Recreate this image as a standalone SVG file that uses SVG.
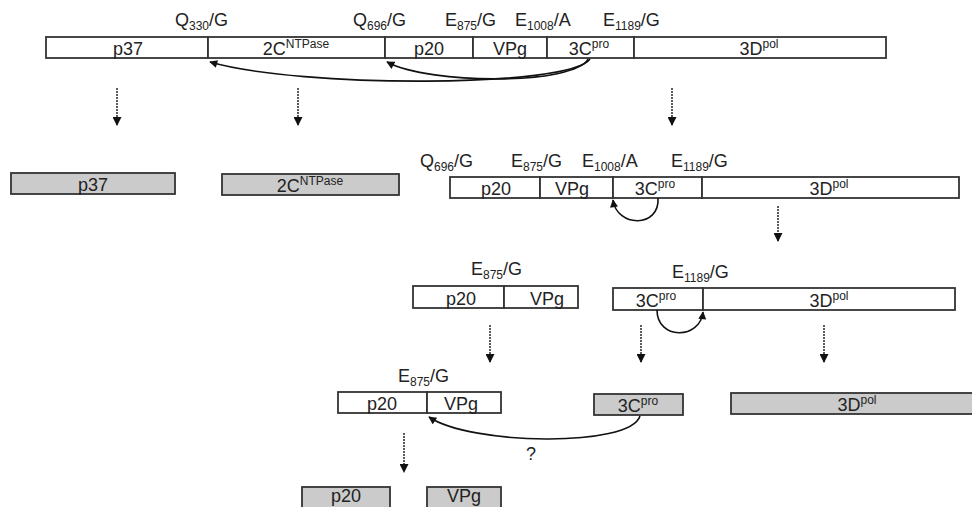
<svg xmlns="http://www.w3.org/2000/svg" width="972" height="507" viewBox="0 0 972 507">
<defs>
<style>
.seg{fill:#ffffff;stroke:#333333;stroke-width:1.8}
.gray{fill:#cbcbcb;stroke:#333333;stroke-width:1.8}
.t{font-family:"Liberation Sans",Arial,sans-serif;font-size:18px;fill:#222222;text-anchor:middle}
.lab{font-family:"Liberation Sans",Arial,sans-serif;font-size:18px;fill:#222222}
.sm{font-size:12px}
.cut{fill:none;stroke:#111111;stroke-width:1.6;marker-end:url(#ah)}
.dot{fill:none;stroke:#333333;stroke-width:1.6;stroke-dasharray:2 1;marker-end:url(#dh)}
</style>
<marker id="ah" viewBox="0 0 10 10" refX="9" refY="5" markerWidth="9" markerHeight="8" markerUnits="userSpaceOnUse" orient="auto"><path d="M0,0 L10,5 L0,10 z" fill="#111111"/></marker>
<marker id="dh" viewBox="0 0 10 10" refX="9" refY="5" markerWidth="10" markerHeight="9" markerUnits="userSpaceOnUse" orient="auto"><path d="M0,0 L10,5 L0,10 z" fill="#111111"/></marker>
</defs>
<rect width="972" height="507" fill="#ffffff"/>

<g id="polyprotein">
<rect class="seg" x="46" y="37" width="162" height="21"/>
<rect class="seg" x="208" y="37" width="177" height="21"/>
<rect class="seg" x="385" y="37" width="88" height="21"/>
<rect class="seg" x="473" y="37" width="74" height="21"/>
<rect class="seg" x="547" y="37" width="87" height="21"/>
<rect class="seg" x="634" y="37" width="252" height="21"/>
<text class="t" x="128" y="55">p37</text>
<text class="t" x="296" y="55">2C<tspan class="sm" dy="-7">NTPase</tspan></text>
<text class="t" x="429" y="55">p20</text>
<text class="t" x="510" y="55">VPg</text>
<text class="t" x="589" y="55">3C<tspan class="sm" dy="-7">pro</tspan></text>
<text class="t" x="759" y="55">3D<tspan class="sm" dy="-7">pol</tspan></text>
<text class="lab" x="175" y="26">Q<tspan class="sm" dy="4">330</tspan><tspan dy="-4">/G</tspan></text>
<text class="lab" x="353" y="26">Q<tspan class="sm" dy="4">696</tspan><tspan dy="-4">/G</tspan></text>
<text class="lab" x="445" y="26">E<tspan class="sm" dy="4">875</tspan><tspan dy="-4">/G</tspan></text>
<text class="lab" x="515" y="26">E<tspan class="sm" dy="4">1008</tspan><tspan dy="-4">/A</tspan></text>
<text class="lab" x="603" y="26">E<tspan class="sm" dy="4">1189</tspan><tspan dy="-4">/G</tspan></text>
</g>

<g id="p37-product">
<rect class="gray" x="11" y="173" width="164" height="21"/>
<text class="t" x="93" y="191">p37</text>
</g>

<g id="ntpase-product">
<rect class="gray" x="222" y="174" width="177" height="21"/>
<text class="t" x="310" y="192">2C<tspan class="sm" dy="-7">NTPase</tspan></text>
</g>

<g id="p20-3D-precursor">
<rect class="seg" x="450" y="177" width="90" height="21"/>
<rect class="seg" x="540" y="177" width="73" height="21"/>
<rect class="seg" x="613" y="177" width="89" height="21"/>
<rect class="seg" x="702" y="177" width="257" height="21"/>
<text class="t" x="496" y="195">p20</text>
<text class="t" x="572" y="195">VPg</text>
<text class="t" x="655" y="195">3C<tspan class="sm" dy="-7">pro</tspan></text>
<text class="t" x="829" y="195">3D<tspan class="sm" dy="-7">pol</tspan></text>
<text class="lab" x="420" y="167">Q<tspan class="sm" dy="4">696</tspan><tspan dy="-4">/G</tspan></text>
<text class="lab" x="511" y="167">E<tspan class="sm" dy="4">875</tspan><tspan dy="-4">/G</tspan></text>
<text class="lab" x="582" y="167">E<tspan class="sm" dy="4">1008</tspan><tspan dy="-4">/A</tspan></text>
<text class="lab" x="671" y="167">E<tspan class="sm" dy="4">1189</tspan><tspan dy="-4">/G</tspan></text>
</g>

<g id="p20-VPg-precursor">
<rect class="seg" x="413" y="286" width="91" height="22"/>
<rect class="seg" x="504" y="286" width="74" height="22"/>
<text class="t" x="461" y="305">p20</text>
<text class="t" x="547" y="305">VPg</text>
<text class="lab" x="471" y="275">E<tspan class="sm" dy="4">875</tspan><tspan dy="-4">/G</tspan></text>
</g>

<g id="3CD-precursor">
<rect class="seg" x="613" y="288" width="90" height="22"/>
<rect class="seg" x="703" y="288" width="252" height="22"/>
<text class="t" x="656" y="307">3C<tspan class="sm" dy="-7">pro</tspan></text>
<text class="t" x="829" y="307">3D<tspan class="sm" dy="-7">pol</tspan></text>
<text class="lab" x="672" y="278">E<tspan class="sm" dy="4">1189</tspan><tspan dy="-4">/G</tspan></text>
</g>

<g id="p20-VPg-final-precursor">
<rect class="seg" x="338" y="392" width="89" height="21"/>
<rect class="seg" x="427" y="392" width="74" height="21"/>
<text class="t" x="382" y="410">p20</text>
<text class="t" x="461" y="410">VPg</text>
<text class="lab" x="398" y="382">E<tspan class="sm" dy="4">875</tspan><tspan dy="-4">/G</tspan></text>
</g>

<g id="3C-product">
<rect class="gray" x="594" y="394" width="89" height="21"/>
<text class="t" x="638" y="412">3C<tspan class="sm" dy="-7">pro</tspan></text>
</g>

<g id="3D-product">
<rect class="gray" x="731" y="393" width="260" height="21"/>
<text class="t" x="857" y="411">3D<tspan class="sm" dy="-7">pol</tspan></text>
</g>

<g id="p20-product">
<rect class="gray" x="302" y="487" width="88" height="25"/>
<text class="t" x="346" y="502">p20</text>
</g>

<g id="VPg-product">
<rect class="gray" x="427" y="487" width="74" height="25"/>
<text class="t" x="464" y="502">VPg</text>
</g>

<g id="connectors">
<path class="cut" d="M590,59 C570,88 300,88 210,62"/>
<path class="cut" d="M588,59 C575,85 430,85 387,62"/>
<path class="cut" d="M658,198 C660,228 617,228 613,200"/>
<path class="cut" d="M657,310 C657,340 700,340 703,312"/>
<path class="cut" d="M640,416 C630,448 470,445 429,417"/>
<path class="dot" d="M117,88 L117,125"/>
<path class="dot" d="M298,88 L298,125"/>
<path class="dot" d="M672,88 L672,125"/>
<path class="dot" d="M778,206 L778,241"/>
<path class="dot" d="M490,325 L490,362"/>
<path class="dot" d="M641,325 L641,362"/>
<path class="dot" d="M824,325 L824,362"/>
<path class="dot" d="M404,433 L404,472"/>
<text class="lab" x="531" y="460" text-anchor="middle">?</text>
</g>
</svg>
